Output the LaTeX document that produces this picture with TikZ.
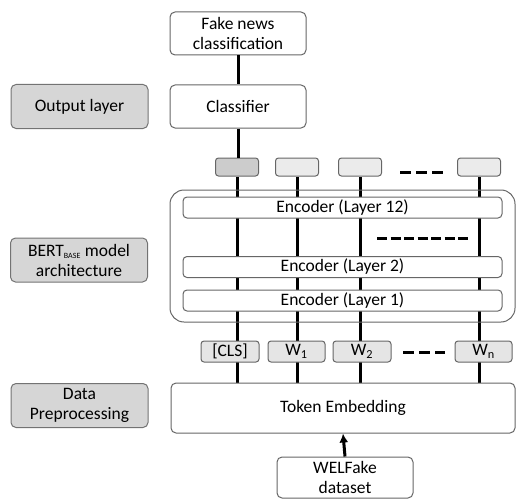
\documentclass[tikz,border=0pt]{standalone}
\usepackage{fontspec}
\setmainfont{Carlito}
\usetikzlibrary{arrows.meta,backgrounds}

\tikzset{
  box/.style={draw=black!60, line width=1pt, rounded corners=5pt, fill=white,
    align=center, inner sep=0pt, font=\fontsize{17.5}{20}\selectfont},
  sidebox/.style={box, draw=black!55, fill=black!16, minimum width=137pt, minimum height=44pt},
  mainbox/.style={box, minimum width=136pt, minimum height=43pt},
  topbox/.style={box, rounded corners=3pt, fill=black!8, minimum width=43pt, minimum height=18pt},
  tokbox/.style={box, rounded corners=3pt, fill=black!10, minimum width=57pt, minimum height=21pt},
  encbox/.style={box, rounded corners=4pt, minimum width=319pt, minimum height=21pt},
  link/.style={line width=3pt, black},
  dots/.style={line width=3pt, black, dash pattern=on 11pt off 5pt},
}

\begin{document}
\begin{tikzpicture}[x=1pt, y=-1pt]
  \useasboundingbox (0,0) rectangle (516,500);

  %% left labels
  \node[sidebox] (outlbl) at (79.5,106.5) {Output layer};
  \node[sidebox] (bertlbl) at (79,260) {BERT\textsubscript{\fontsize{8}{8}\selectfont BASE} model\\architecture};
  \node[sidebox] (prelbl) at (79.5,405.5) {Data\\Preprocessing};

  %% output part
  \node[mainbox] (fake) at (238,33.5) {Fake news\\classification};
  \node[mainbox] (clf) at (238,106.5) {Classifier};

  %% outputs of the last encoder
  \node[topbox, fill=black!20] (top1) at (237,167) {};
  \node[topbox] (top2) at (297,167) {};
  \node[topbox] (top3) at (360,167) {};
  \node[topbox] (top4) at (479,167) {};
  \draw[dots] (400,172) -- (443,172);

  %% encoder stack
  \node[box, rounded corners=14pt, fill=none, minimum width=345pt, minimum height=132pt] (bert) at (342.5,256) {};
  \node[encbox] (enc12) at (342.5,207.5) {Encoder (Layer 12)};
  \node[encbox] (enc2) at (342.5,267) {Encoder (Layer 2)};
  \node[encbox] (enc1) at (342.5,300.5) {Encoder (Layer 1)};
  \draw[line width=3pt, dash pattern=on 10pt off 3.5pt] (377,238) -- (468,238);

  %% tokens
  \node[tokbox, minimum width=58pt] (cls) at (230,351.5) {[CLS]};
  \node[tokbox] (w1) at (296.5,351.5) {W\textsubscript{1}};
  \node[tokbox, minimum width=58pt] (w2) at (362,351.5) {W\textsubscript{2}};
  \node[tokbox] (wn) at (483.5,351.5) {W\textsubscript{n}};
  \draw[dots] (403,352) -- (445,352);

  %% input
  \node[mainbox, minimum width=344pt, minimum height=50pt] (emb) at (343,408) {Token Embedding};
  \node[mainbox, minimum height=41pt] (wel) at (345,477.5) {WELFake\\dataset};

  \begin{pgfonlayer}{background}
    \foreach \t in {top1,top2,top3,top4}
      \draw[link] (emb.north -| \t.south) -- (\t.south);
  \end{pgfonlayer}

  \draw[link] (fake.south) -- (clf.north);
  \draw[link] (clf.south) -- (clf.south |- top1.north);
  \draw[line width=3pt, -{Latex[length=9pt,width=9pt]}] (wel.north) -- (emb.south);
\end{tikzpicture}
\end{document}
